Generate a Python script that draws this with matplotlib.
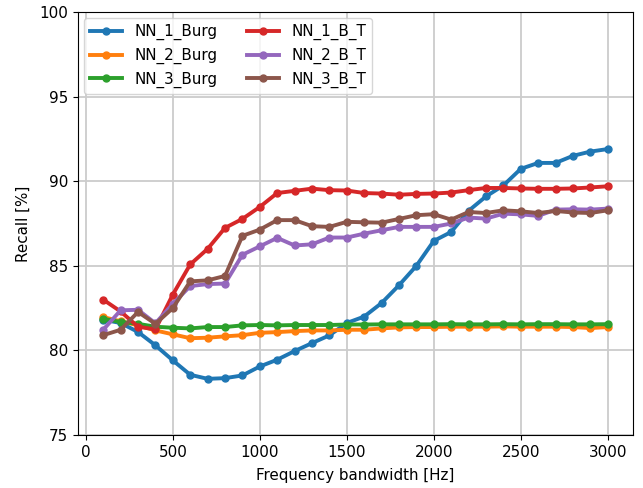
import numpy as np
import matplotlib
matplotlib.use('Agg')
import matplotlib.pyplot as plt

freq = list(range(100, 3100, 100))

nn1_burg = [81.81, 81.62, 81.09, 80.30, 79.41, 78.56, 78.32, 78.36, 78.52, 79.05,
            79.45, 79.96, 80.43, 80.89, 81.62, 82.00, 82.80, 83.85, 85.00, 86.47,
            87.00, 88.25, 89.10, 89.75, 90.73, 91.08, 91.08, 91.50, 91.75, 91.90]
nn2_burg = [81.97, 81.72, 81.48, 81.18, 80.95, 80.72, 80.75, 80.83, 80.90, 81.04,
            81.08, 81.14, 81.18, 81.18, 81.22, 81.22, 81.30, 81.36, 81.38, 81.38,
            81.40, 81.40, 81.40, 81.42, 81.40, 81.40, 81.40, 81.38, 81.32, 81.38]
nn3_burg = [81.87, 81.68, 81.57, 81.40, 81.34, 81.30, 81.38, 81.38, 81.48, 81.50,
            81.48, 81.50, 81.50, 81.50, 81.53, 81.53, 81.54, 81.54, 81.54, 81.54,
            81.55, 81.54, 81.54, 81.55, 81.54, 81.55, 81.55, 81.54, 81.54, 81.55]
nn1_bt = [83.00, 82.30, 81.40, 81.24, 83.30, 85.08, 86.00, 87.24, 87.77, 88.48,
          89.30, 89.43, 89.56, 89.47, 89.45, 89.30, 89.27, 89.20, 89.25, 89.27,
          89.33, 89.47, 89.60, 89.60, 89.57, 89.55, 89.55, 89.57, 89.63, 89.70]
nn2_bt = [81.22, 82.37, 82.40, 81.60, 82.75, 83.80, 83.92, 83.95, 85.65, 86.15,
          86.65, 86.20, 86.27, 86.67, 86.67, 86.90, 87.10, 87.30, 87.30, 87.30,
          87.50, 87.85, 87.79, 88.08, 88.04, 87.95, 88.32, 88.34, 88.32, 88.38]
nn3_bt = [80.90, 81.22, 82.27, 81.57, 82.50, 84.08, 84.14, 84.40, 86.77, 87.14,
          87.70, 87.70, 87.34, 87.30, 87.60, 87.57, 87.55, 87.77, 87.99, 88.05,
          87.73, 88.18, 88.12, 88.28, 88.22, 88.12, 88.24, 88.15, 88.12, 88.28]

series = [('NN_1_Burg', nn1_burg), ('NN_2_Burg', nn2_burg), ('NN_3_Burg', nn3_burg),
          ('NN_1_B_T', nn1_bt), ('NN_2_B_T', nn2_bt), ('NN_3_B_T', nn3_bt)]
colors = ['#1f77b4', '#ff7f0e', '#2ca02c', '#d62728', '#9467bd', '#8c564b']

FS = 10.9
fig = plt.figure(figsize=(6.43, 4.88), dpi=100)
ax = fig.add_axes([78/643, 53/488, 555/643, 423/488])
for (name, vals), col in zip(series, colors):
    ax.plot(freq, vals, '-o', color=col, lw=2.8, ms=5, label=name)

ax.set_ylim(75, 100)
ax.set_xlim(-45, 3145)
ax.set_xticks([0, 500, 1000, 1500, 2000, 2500, 3000])
ax.set_yticks([75, 80, 85, 90, 95, 100])
ax.tick_params(labelsize=FS)
ax.grid(True, color='#cccccc', lw=1.3)
ax.set_axisbelow(True)
ax.set_xlabel('Frequency bandwidth [Hz]', fontsize=FS, labelpad=6)
ax.set_ylabel('Recall [%]', fontsize=FS, labelpad=6)
ax.legend(loc='upper left', ncol=2, fontsize=FS, columnspacing=2.0,
          handlelength=2.1, borderaxespad=0.4)

fig.savefig('out.png', dpi=100)
